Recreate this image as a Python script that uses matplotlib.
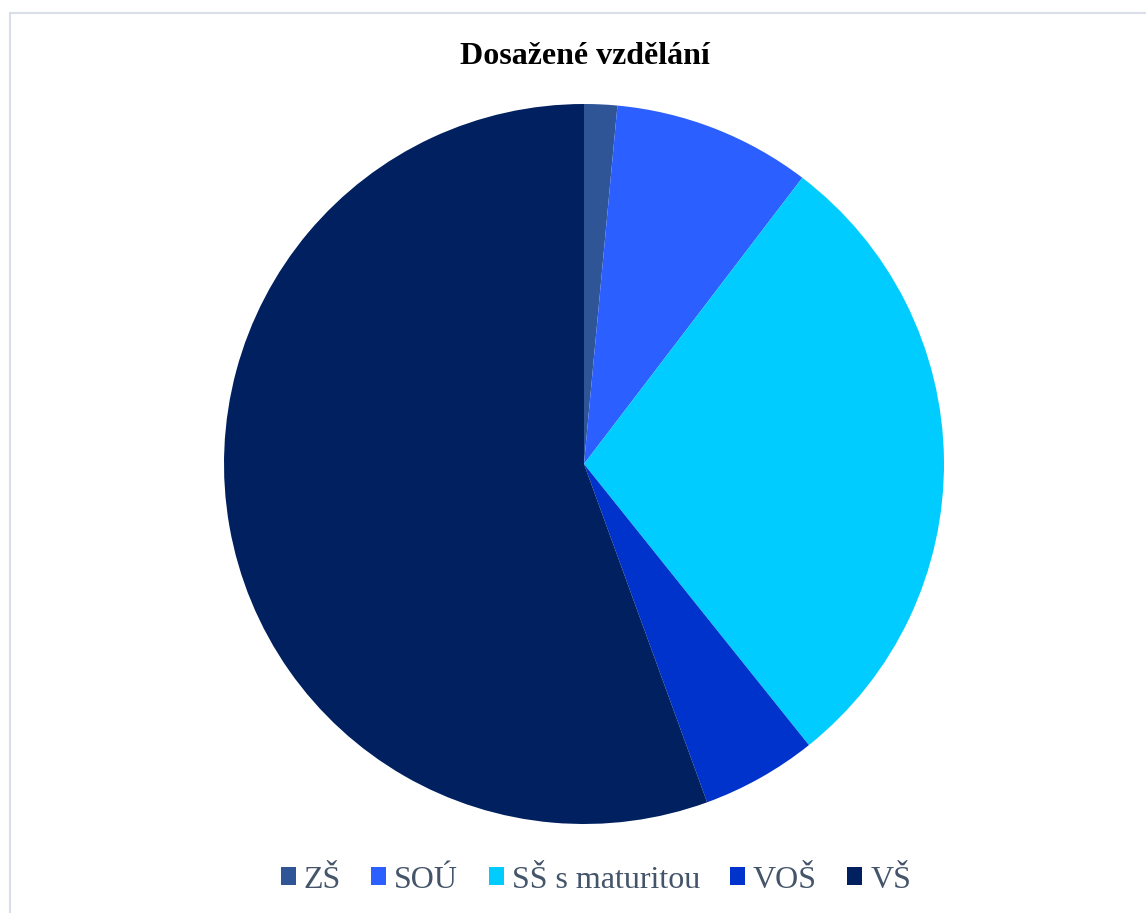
import matplotlib.pyplot as plt
from matplotlib.patches import Rectangle, Patch

# Data
categories = ['ZŠ', 'SOÚ', 'SŠ s maturitou', 'VOŠ', 'VŠ']
counts = [2, 12, 39, 7, 75]
colors = ['#2F5597', '#2B5FFF', '#00CCFF', '#0033CC', '#002060']

plt.rcParams['font.family'] = ['Liberation Serif', 'DejaVu Serif']

fig = plt.figure(figsize=(11.46, 9.13), dpi=100)

# light frame at left/top
fig.patches.append(Rectangle((10 / 1146, -0.1), 1.2, 1 - 13 / 913 + 0.1,
                             transform=fig.transFigure, fill=False,
                             edgecolor='#D9DEE8', linewidth=1.5))

cx, cy, r = 584, 464, 360
ax = fig.add_axes([(cx - r) / 1146, 1 - (cy + r) / 913, 2 * r / 1146, 2 * r / 913])
ax.pie(counts, colors=colors, startangle=90, counterclock=False,
       wedgeprops=dict(linewidth=0))
ax.set_xlim(-1, 1)
ax.set_ylim(-1, 1)
ax.set_aspect('equal')

fig.text(585 / 1146, 1 - 56 / 913, 'Dosažené vzdělání', ha='center', va='center',
         fontsize=23, fontweight='bold', color='black')

handles = [Patch(facecolor=c, edgecolor='none') for c in colors]
fig.legend(handles, categories, loc='center', bbox_to_anchor=(596 / 1146, 1 - 880 / 913),
           ncol=5, frameon=False, fontsize=23, labelcolor='#44546A',
           handlelength=0.47, handleheight=0.47, handletextpad=0.25, columnspacing=0.95)

plt.savefig('out.png', dpi=100)
